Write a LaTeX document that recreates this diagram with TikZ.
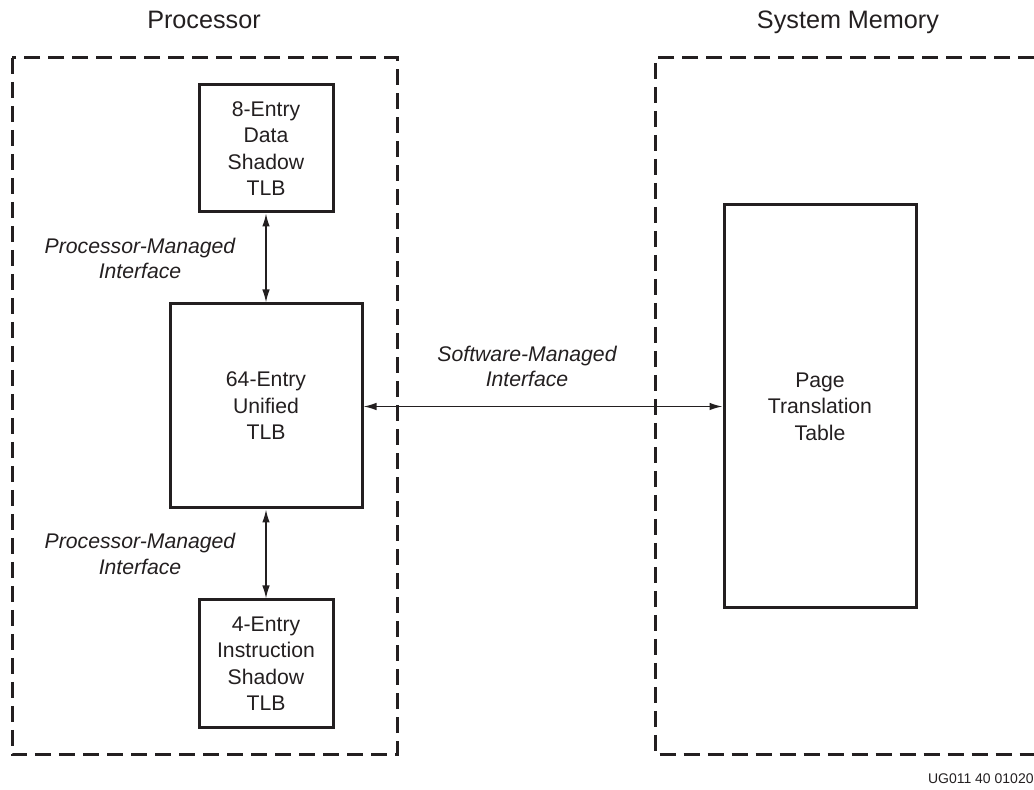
\documentclass[tikz,border=0pt]{standalone}
\usepackage{fontspec}
\setmainfont{Liberation Sans}
\usepackage{tikz}
\usetikzlibrary{arrows.meta}
\definecolor{ink}{RGB}{35,31,32}

\begin{document}
\begin{tikzpicture}[x=0.5pt,y=-0.5pt,>={Latex[length=6.5pt,width=3.8pt]},
                    font=\fontsize{10.6}{13.2}\selectfont,
                    every node/.style={inner sep=0pt,text=ink},
                    tlb/.style={draw=ink,line width=1.5pt,align=center},
                    region/.style={draw=ink,line width=1.5pt,dash pattern=on 8pt off 4pt},
                    title/.style={anchor=base,font=\fontsize{12.6}{15}\selectfont},
                    iface/.style={align=center,font=\fontsize{10.6}{12.8}\selectfont\itshape},
                    link/.style={<->,draw=ink,line width=0.75pt}]
  \useasboundingbox (0,0) rectangle (1034,790);
  \draw[region] (12,58) rectangle (397,755);
  \draw[region] (1034,57.5) -- (655.5,57.5) -- (655.5,755) -- (1034,755);
  \node[title] (proc) at (204,28.3) {Processor};
  \node[title] (sysmem) at (848,28.3) {System Memory};
  \node[tlb,minimum width=67pt,minimum height=63.5pt] (dshadow) at (266,148.5)
      {8-Entry\\ Data\\ Shadow\\ TLB};
  \node[tlb,minimum width=96pt,minimum height=102pt] (unified) at (266,406)
      {64-Entry\\ Unified\\ TLB};
  \node[tlb,minimum width=67pt,minimum height=63.75pt] (ishadow) at (266,663.75)
      {4-Entry\\ Instruction\\ Shadow\\ TLB};
  \node[tlb,minimum width=96pt,minimum height=201.5pt] (pagetab) at (820,406.5)
      {Page\\ Translation\\ Table};
  \node[iface] (pmtop) at (140,258.5) {Processor-Managed\\ Interface};
  \node[iface] (pmbot) at (140,554) {Processor-Managed\\ Interface};
  \node[iface] (swm) at (527,366.5) {Software-Managed\\ Interface};
  \draw[link] (dshadow) -- (unified);
  \draw[link] (unified) -- (ishadow);
  \draw[link] (unified.east |- pagetab.west) -- (pagetab.west);
  \node[anchor=east,font=\fontsize{7}{8}\selectfont] (fig) at (1034,779) {UG011 40 01020};
\end{tikzpicture}
\end{document}
